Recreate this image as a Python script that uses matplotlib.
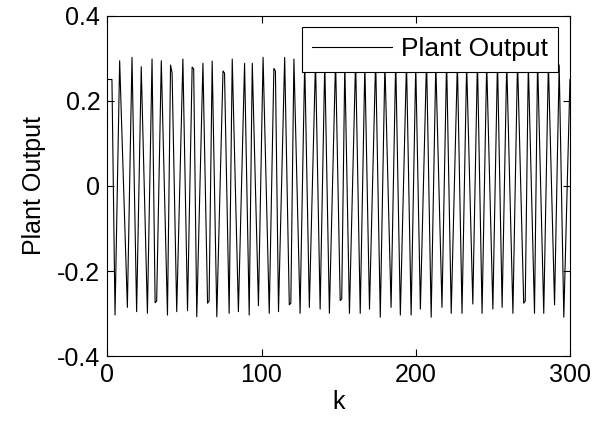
import matplotlib
matplotlib.use("Agg")
import matplotlib.pyplot as plt

plt.rcParams['font.family'] = ['Liberation Sans', 'DejaVu Sans']

# turning points of the plant output signal (sample index k, value)
k_pts = [0, 3, 5, 8, 13, 16, 19, 22, 26, 29, 31, 32, 35, 39, 41, 42, 45, 49, 52, 55, 56,
         58, 62, 65, 66, 68, 71, 75, 76, 79, 81, 85, 89, 92, 94, 98, 101, 105, 108, 109,
         111, 115, 118, 119, 121, 125, 128, 131, 135, 138, 141, 144, 148, 151, 152, 154,
         157, 161, 164, 167, 170, 174, 177, 180, 184, 187, 190, 194, 197, 200, 203, 207,
         210, 213, 217, 220, 223, 227, 230, 233, 237, 240, 243, 246, 250, 253, 256, 259,
         263, 266, 270, 271, 273, 277, 279, 283, 286, 290, 293, 296, 300]
y_pts = [0.25, 0.25, -0.303, 0.294, -0.285, 0.302, -0.295, 0.280, -0.299, 0.298, -0.274,
         -0.270, 0.294, -0.303, 0.284, 0.265, -0.295, 0.298, -0.293, 0.279, 0.275,
         -0.307, 0.288, -0.275, -0.270, 0.293, -0.307, 0.270, 0.265, -0.299, 0.298,
         -0.295, 0.288, -0.303, 0.288, -0.281, 0.302, -0.299, 0.276, 0.270,
         -0.295, 0.302, -0.279, -0.275, 0.298, -0.299, 0.292, -0.285, 0.295, -0.289,
         0.290, -0.299, 0.296, -0.269, -0.265, 0.288, -0.299, 0.297, -0.299, 0.285,
         -0.289, 0.298, -0.308, 0.288, -0.285, 0.296, -0.303, 0.291, -0.303, 0.284,
         -0.289, 0.298, -0.308, 0.288, -0.285, 0.296, -0.299, 0.290, -0.299, 0.286,
         -0.277, 0.297, -0.299, 0.288, -0.289, 0.295, -0.285, 0.290, -0.299, 0.296,
         -0.275, -0.270, 0.288, -0.299, 0.297, -0.299, 0.289, -0.279, 0.284, -0.308, 0.25]

x_ticks = [0, 100, 200, 300]
y_ticks = [-0.4, -0.2, 0, 0.2, 0.4]
y_ticklabels = ['-0.4', '-0.2', '0', '0.2', '0.4']

FS = 18

fig = plt.figure(figsize=(6.07, 4.26), dpi=100)
ax = fig.add_axes([0.1768, 0.1634, 0.7622, 0.8000])
ax.plot(k_pts, y_pts, color='black', linewidth=0.8, label='Plant Output')
ax.set_xlim(0, 300)
ax.set_ylim(-0.4, 0.4)
ax.set_xticks(x_ticks)
ax.set_yticks(y_ticks)
ax.set_yticklabels(y_ticklabels)
ax.tick_params(direction='in', length=5, width=0.8, top=True, right=True,
               labelsize=FS, pad=5)
for s in ax.spines.values():
    s.set_linewidth(0.8)
ax.set_xlabel('k', fontsize=FS, labelpad=2)
ax.set_ylabel('Plant Output', fontsize=FS, labelpad=8)
leg = ax.legend(loc='upper right', fontsize=19, handlelength=3.05, fancybox=False,
                framealpha=1, edgecolor='black', borderaxespad=0.45, handletextpad=0.34,
                borderpad=0.38)
leg.get_frame().set_linewidth(0.8)
leg.get_lines()[0].set_linewidth(0.8)
fig.savefig('out.png', dpi=100)
